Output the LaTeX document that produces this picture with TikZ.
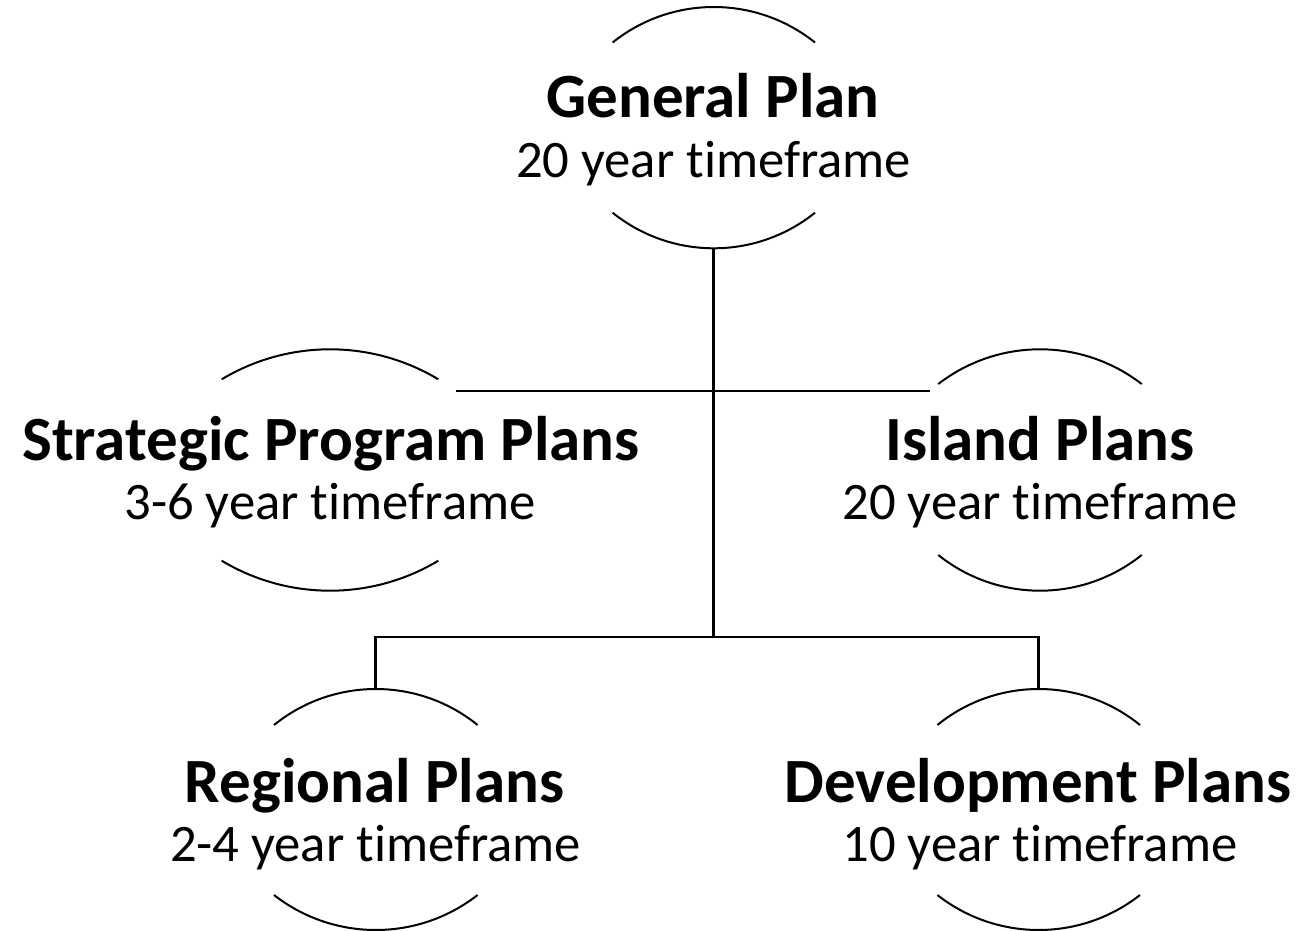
\documentclass[tikz,border=0pt]{standalone}
\usepackage{fontspec}
\setmainfont{Carlito}[Ligatures={NoCommon,NoContextual}]
\newcommand\ttlfont{\fontsize{63}{70}\selectfont\bfseries}
\newcommand\subfont{\fontsize{52.7}{60}\selectfont}
\newcommand\ellarcs[6]{%
  \pgfmathsetmacro\sA{#3-#2}%
  \pgfmathsetmacro\rA{(#6/(2*\sA))*#6+\sA/2}%
  \pgfmathsetmacro\tA{asin(#6/\rA)}%
  \pgfmathsetmacro\sB{#5-#4}%
  \pgfmathsetmacro\rB{(#6/(2*\sB))*#6+\sB/2}%
  \pgfmathsetmacro\tB{asin(#6/\rB)}%
  \draw[arcline] (#1-#6,#3) arc[start angle={270-\tA}, end angle={270+\tA}, radius=\rA];
  \draw[arcline] (#1-#6,#4) arc[start angle={90+\tB}, end angle={90-\tB}, radius=\rB];
}
\tikzset{
  arcline/.style={line width=2pt, black},
  conn/.style={line width=2.8pt, black},
  ttl/.style={anchor=base, inner sep=0pt, font=\ttlfont},
  sub/.style={anchor=base, inner sep=0pt, font=\subfont},
}
\begin{document}
\begin{tikzpicture}[x=1pt, y=-1pt]
\useasboundingbox (0,0) rectangle (1304,931);
% ellipses (top and bottom arcs)
\ellarcs{713.8}{7}{42.5}{212.7}{248.3}{101.2}
\ellarcs{330}{349.3}{379.3}{560.7}{590.7}{108.3}
\ellarcs{1040}{349.3}{384}{555}{590.7}{101.7}
\ellarcs{375.8}{689}{725}{895}{930}{101.8}
\ellarcs{1038.7}{689}{725}{895}{930}{101.3}
% anchor points
\coordinate (gpBot) at (713.8,248.3);
\coordinate (rpTop) at (375.8,689);
\coordinate (dpTop) at (1038.7,689);
\coordinate (spR) at (456,391);
\coordinate (ipL) at (930,391);
\coordinate (j2) at (713.8,637);
% labels
\node[ttl] (gpT) at (713,118) {General Plan};
\node[sub] (gpS) at (713.5,177) {20 year timeframe};
\node[ttl] (spT) at (331,460) {Strategic Program Plans};
\node[sub] (spS) at (330,519) {3-6 year timeframe};
\node[ttl] (ipT) at (1040,460) {Island Plans};
\node[sub] (ipS) at (1040,519) {20 year timeframe};
\node[ttl] (rpT) at (374.5,802) {Regional Plans};
\node[sub] (rpS) at (375.5,861) {2-4 year timeframe};
\node[ttl] (dpT) at (1038,802) {Development Plans};
\node[sub] (dpS) at (1040,861) {10 year timeframe};
% connectors
\draw[conn] (gpBot) -- (j2);
\draw[conn] (spR) -- (ipL);
\draw[conn] (rpTop) |- (j2) -| (dpTop);
\end{tikzpicture}
\end{document}
